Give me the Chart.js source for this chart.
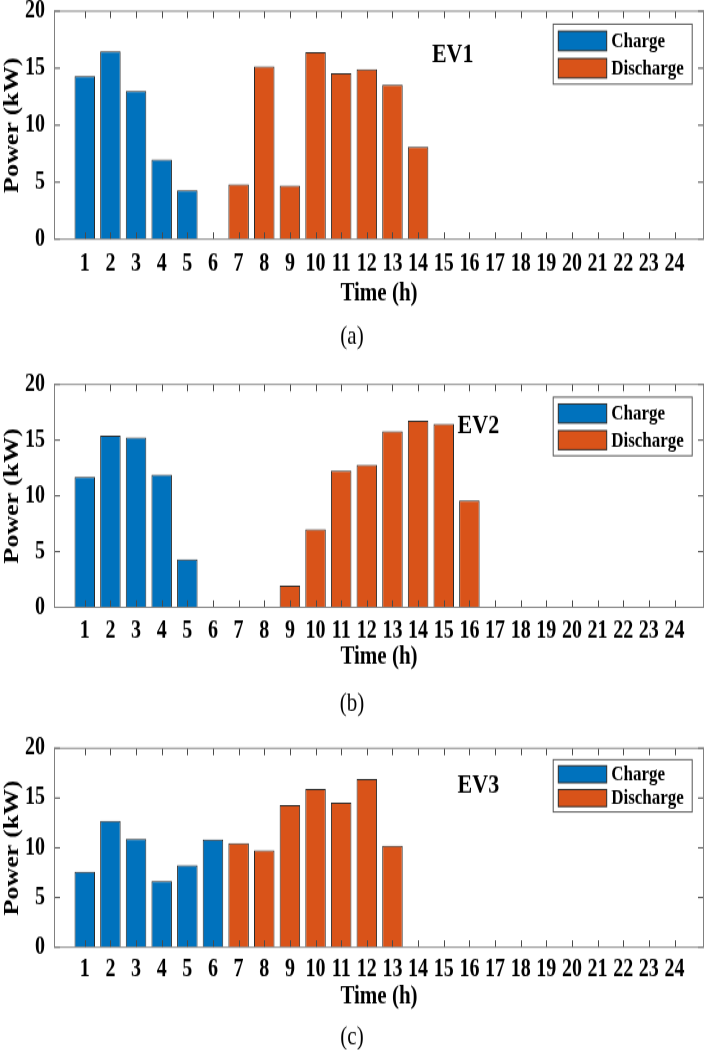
<!DOCTYPE html>
<html>
<head>
<meta charset="utf-8">
<script src="https://cdn.jsdelivr.net/npm/chart.js@4/dist/chart.umd.min.js"></script>
<style>
  html, body { margin: 0; padding: 0; background: #fff; overflow: hidden; }
  #wrap { position: relative; width: 709px; height: 1050px; }
  canvas { position: absolute; left: 0; }
</style>
</head>
<body>
<div id="wrap">
  <canvas id="ev1"></canvas>
  <canvas id="ev2"></canvas>
  <canvas id="ev3"></canvas>
</div>
<script>
// hours of the day
const hours = [1, 2, 3, 4, 5, 6, 7, 8, 9, 10, 11, 12, 13, 14, 15, 16, 17, 18, 19, 20, 21, 22, 23, 24];

// EV1 power (kW)
const ev1Charge = [14.3, 16.5, 13.0, 7.0, 4.3, null, null, null, null, null, null, null, null, null, null, null, null, null, null, null, null, null, null, null];
const ev1Discharge = [null, null, null, null, null, null, 4.8, 15.15, 4.7, 16.4, 14.55, 14.9, 13.55, 8.1, null, null, null, null, null, null, null, null, null, null];

// EV2 power (kW)
const ev2Charge = [11.7, 15.4, 15.25, 11.9, 4.3, null, null, null, null, null, null, null, null, null, null, null, null, null, null, null, null, null, null, null];
const ev2Discharge = [null, null, null, null, null, null, null, null, 1.95, 7.0, 12.25, 12.8, 15.8, 16.75, 16.45, 9.6, null, null, null, null, null, null, null, null];

// EV3 power (kW)
const ev3Charge = [7.6, 12.7, 10.9, 6.65, 8.25, 10.85, null, null, null, null, null, null, null, null, null, null, null, null, null, null, null, null, null, null];
const ev3Discharge = [null, null, null, null, null, null, 10.45, 9.75, 14.3, 15.9, 14.55, 16.9, 10.2, null, null, null, null, null, null, null, null, null, null, null];

const seriesNames = ['Charge', 'Discharge'];
const yTicks = [0, 5, 10, 15, 20];

const BLUE = '#0072BD';
const ORANGE = '#D95319';
const FONT = "'Liberation Serif', 'Times New Roman', serif";
const STRETCH = 1.24; // the figure is taller than wide, canvas gets stretched vertically

// axes box, inner ticks, panel name and legend
const framePlugin = {
  id: 'frame',
  afterDatasetsDraw(chart, args, opts) {
    const { ctx, chartArea: a, scales: { x, y } } = chart;
    ctx.save();
    ctx.lineWidth = 1;
    ctx.strokeStyle = '#4a4a4a';
    ctx.beginPath();
    x.ticks.forEach(t => {
      if (t.value < 1 || t.value > 24) return;
      const px = Math.round(x.getPixelForValue(t.value)) + 0.5;
      ctx.moveTo(px, a.bottom);
      ctx.lineTo(px, a.bottom - 5.6);
      ctx.moveTo(px, a.top);
      ctx.lineTo(px, a.top + 5.6);
    });
    y.ticks.forEach(t => {
      const py = y.getPixelForValue(t.value);
      ctx.moveTo(a.left, py);
      ctx.lineTo(a.left + 6, py);
      ctx.moveTo(a.right, py);
      ctx.lineTo(a.right - 6, py);
    });
    ctx.stroke();
    ctx.strokeStyle = '#808080';
    ctx.strokeRect(a.left + 0.5, a.top, a.width - 1, a.height);

    // panel name
    ctx.fillStyle = '#000';
    ctx.font = 'bold 22px ' + FONT;
    ctx.textAlign = 'center';
    ctx.textBaseline = 'middle';
    ctx.fillText(opts.name, x.getPixelForValue(opts.nameX), y.getPixelForValue(opts.nameY));

    // legend
    const h = a.height;
    const boxW = 139;
    const boxH = 0.263 * h;
    const bx = a.right - 12.3 - boxW;
    const by = a.top + 0.057 * h;
    ctx.fillStyle = '#fff';
    ctx.fillRect(bx, by, boxW, boxH);
    ctx.strokeStyle = '#555';
    ctx.strokeRect(bx + 0.5, by, boxW, boxH);
    ctx.font = 'bold 17px ' + FONT;
    ctx.textAlign = 'left';
    chart.data.datasets.forEach((ds, i) => {
      const sy = by + (i === 0 ? 0.117 : 0.572) * boxH;
      const sh = 0.325 * boxH;
      ctx.fillStyle = ds.backgroundColor;
      ctx.fillRect(bx + 5.6, sy, 48.4, sh);
      ctx.strokeStyle = '#2a2a2a';
      ctx.strokeRect(bx + 5.6, sy, 48.4, sh);
      ctx.fillStyle = '#000';
      ctx.fillText(ds.label, bx + 58.5, sy + sh / 2 + 0.5);
    });
    ctx.restore();
  }
};

function drawPanel(id, charge, discharge, cfg) {
  const canvas = document.getElementById(id);
  canvas.width = 709;
  canvas.height = cfg.H;
  canvas.style.width = '709px';
  canvas.style.height = (cfg.H * STRETCH) + 'px';
  canvas.style.top = cfg.screenTop + 'px';

  const capLine = 21 * 1.2;
  const padBottom = cfg.H - cfg.bottom - cfg.xHeight - cfg.capPad - capLine;

  new Chart(canvas, {
    type: 'bar',
    data: {
      labels: hours,
      datasets: [
        { label: seriesNames[0], data: charge, backgroundColor: BLUE, borderColor: '#2a2a2a', borderWidth: 1 },
        { label: seriesNames[1], data: discharge, backgroundColor: ORANGE, borderColor: '#2a2a2a', borderWidth: 1 }
      ]
    },
    options: {
      responsive: false,
      animation: false,
      devicePixelRatio: 1,
      categoryPercentage: 1,
      barPercentage: 0.8,
      layout: { padding: { top: cfg.top, left: 0, right: 5, bottom: padBottom } },
      scales: {
        x: {
          type: 'linear',
          stacked: true,
          min: -0.2,
          max: 25.15,
          offset: false,
          grid: { display: false, drawTicks: false, offset: false },
          border: { display: false },
          ticks: {
            stepSize: 1,
            includeBounds: false,
            autoSkip: false,
            maxRotation: 0,
            minRotation: 0,
            padding: cfg.tickPad,
            color: '#000',
            font: { family: FONT, size: 20, weight: 'bold' },
            callback: v => (Number.isInteger(v) && v >= 1 && v <= 24) ? String(v) : ''
          },
          title: {
            display: true,
            text: 'Time (h)',
            color: '#000',
            padding: { top: 0, bottom: 0 },
            font: { family: FONT, size: 21, weight: 'bold' }
          },
          afterFit(scale) {
            scale.height = cfg.xHeight;
            scale.paddingLeft = 0;
            scale.paddingRight = 0;
          }
        },
        y: {
          stacked: true,
          min: 0,
          max: 20,
          grid: { display: false, drawTicks: false },
          border: { display: false },
          afterBuildTicks(scale) {
            scale.ticks = yTicks.map(v => ({ value: v }));
          },
          ticks: {
            padding: 9,
            color: '#000',
            font: { family: FONT, size: 20, weight: 'bold' }
          },
          title: {
            display: true,
            text: 'Power (kW)',
            color: '#000',
            padding: { top: 0, bottom: 0 },
            font: { family: FONT, size: 21, weight: 'bold' }
          },
          afterFit(scale) {
            scale.width = 54;
            scale.paddingTop = 0;
            scale.paddingBottom = 0;
          }
        }
      },
      plugins: {
        legend: { display: false },
        tooltip: { enabled: false },
        title: {
          display: true,
          position: 'bottom',
          text: cfg.caption,
          color: '#000',
          padding: { top: cfg.capPad, bottom: 0 },
          font: { family: FONT, size: 21, weight: 'normal' }
        },
        frame: { name: cfg.name, nameX: cfg.nameX, nameY: cfg.nameY }
      }
    },
    plugins: [framePlugin]
  });
}

drawPanel('ev1', ev1Charge, ev1Discharge, {
  screenTop: 0, H: 286, top: 9, bottom: 192.7, tickPad: 8, xHeight: 56, capPad: 10,
  caption: '(a)', name: 'EV1', nameX: 15.35, nameY: 16.2
});
drawPanel('ev2', ev2Charge, ev2Discharge, {
  screenTop: 286 * STRETCH, H: 296, top: 23.7, bottom: 203.5, tickPad: 7, xHeight: 53, capPad: 12.7,
  caption: '(b)', name: 'EV2', nameX: 16.35, nameY: 16.3
});
drawPanel('ev3', ev3Charge, ev3Discharge, {
  screenTop: (286 + 296) * STRETCH, H: 267, top: 21.2, bottom: 181.7, tickPad: 6, xHeight: 52, capPad: 7.9,
  caption: '(c)', name: 'EV3', nameX: 16.35, nameY: 16.2
});
</script>
</body>
</html>
